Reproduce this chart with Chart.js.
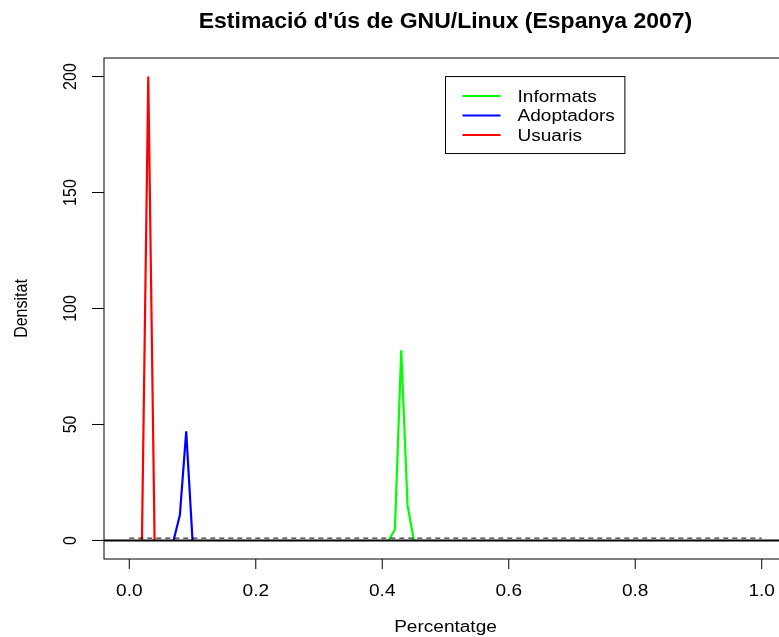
<!DOCTYPE html>
<html>
<head>
<meta charset="utf-8">
<script src="https://cdn.jsdelivr.net/npm/chart.js@4"></script>
<style>
  html, body { margin: 0; padding: 0; background: #fff; overflow: hidden; }
  canvas { display: block; }
</style>
</head>
<body>
<canvas id="grafic" width="840" height="637"></canvas>
<script>
// densitats posteriors (llegides del grafic)
var informatsX = [0.41, 0.42, 0.43, 0.44, 0.45];
var informatsY = [0, 4.7, 82, 15, 0];
var adoptadorsX = [0.07, 0.08, 0.09, 0.10];
var adoptadorsY = [0, 11, 47, 0];
var usuarisX = [0.02, 0.03, 0.04];
var usuarisY = [0, 200, 0];
// prior uniforme
var priorX = [0, 1];
var priorY = [1, 1];

var xTicks = [0, 0.2, 0.4, 0.6, 0.8, 1.0];
var xTickLabels = ['0.0', '0.2', '0.4', '0.6', '0.8', '1.0'];
var yTicks = [0, 50, 100, 150, 200];
var yTickLabels = ['0', '50', '100', '150', '200'];

var FONT = '"Liberation Sans", Arial, sans-serif';
var SX = 1.19; // the picture is a bit wider than tall

function pts(xs, ys) {
  return xs.map(function (x, i) { return { x: x, y: ys[i] }; });
}

function txt(ctx, s, x, y, opts) {
  ctx.save();
  ctx.translate(x, y);
  ctx.scale(opts.sx || 1, 1);
  if (opts.rot) ctx.rotate(-Math.PI / 2);
  ctx.font = opts.font;
  ctx.fillStyle = '#000';
  ctx.textAlign = opts.align || 'center';
  ctx.textBaseline = 'alphabetic';
  ctx.fillText(s, 0, 0);
  ctx.restore();
}

// R style axes, box, titles and legend
var rPlot = {
  id: 'rPlot',
  afterDatasetsDraw: function (chart) {
    var ctx = chart.ctx, a = chart.chartArea;
    var xs = chart.scales.x, ys = chart.scales.y;
    var f16 = '16px ' + FONT;

    // abline(h = 0)
    ctx.save();
    ctx.strokeStyle = '#000';
    ctx.lineWidth = 2;
    ctx.beginPath();
    ctx.moveTo(a.left, ys.getPixelForValue(0));
    ctx.lineTo(a.right, ys.getPixelForValue(0));
    ctx.stroke();

    // box
    ctx.lineWidth = 1;
    ctx.strokeRect(a.left, a.top, a.right - a.left, a.bottom - a.top);

    // ticks
    ctx.beginPath();
    xTicks.forEach(function (v) {
      var px = xs.getPixelForValue(v);
      ctx.moveTo(px, a.bottom);
      ctx.lineTo(px, a.bottom + 10);
    });
    yTicks.forEach(function (v) {
      var py = ys.getPixelForValue(v);
      ctx.moveTo(a.left, py);
      ctx.lineTo(a.left - 12, py);
    });
    ctx.stroke();
    ctx.restore();

    xTicks.forEach(function (v, i) {
      txt(ctx, xTickLabels[i], xs.getPixelForValue(v), a.bottom + 37, { font: f16, sx: SX });
    });
    yTicks.forEach(function (v, i) {
      txt(ctx, yTickLabels[i], a.left - 28, ys.getPixelForValue(v), { font: f16, sx: SX, rot: true });
    });

    var cx = (a.left + a.right) / 2;
    txt(ctx, "Estimació d'ús de GNU/Linux (Espanya 2007)", cx, 28, { font: 'bold 22px ' + FONT, sx: 1.045 });
    txt(ctx, 'Percentatge', cx, 632, { font: f16, sx: SX });
    txt(ctx, 'Densitat', 27, (a.top + a.bottom) / 2, { font: f16, sx: SX, rot: true });

    // legend at (0.5, 200)
    var items = chart.data.datasets.filter(function (d) { return d.label; });
    var lx = xs.getPixelForValue(0.5), ly = ys.getPixelForValue(200);
    ctx.save();
    ctx.font = f16;
    var tw = 0;
    items.forEach(function (d) { tw = Math.max(tw, ctx.measureText(d.label).width * SX); });
    var rowH = 19.5;
    var bw = 72 + tw + 10, bh = 19.4 + rowH * (items.length - 1) + 18.6;
    ctx.fillStyle = '#fff';
    ctx.fillRect(lx, ly, bw, bh);
    ctx.strokeStyle = '#000';
    ctx.lineWidth = 1;
    ctx.strokeRect(lx, ly, bw, bh);
    items.forEach(function (d, i) {
      var ry = ly + 19.4 + i * rowH;
      ctx.strokeStyle = d.borderColor;
      ctx.lineWidth = 2;
      ctx.beginPath();
      ctx.moveTo(lx + 17, ry);
      ctx.lineTo(lx + 55, ry);
      ctx.stroke();
      txt(ctx, d.label, lx + 72, ry + 6, { font: f16, sx: SX, align: 'left' });
    });
    ctx.restore();
  }
};

new Chart(document.getElementById('grafic'), {
  type: 'scatter',
  data: {
    datasets: [
      { label: 'Informats', data: pts(informatsX, informatsY), borderColor: '#00FF00', order: 1 },
      { label: 'Adoptadors', data: pts(adoptadorsX, adoptadorsY), borderColor: '#0000FF', order: 2 },
      { label: 'Usuaris', data: pts(usuarisX, usuarisY), borderColor: '#FF0000', order: 3 },
      { data: pts(priorX, priorY), borderColor: '#000', borderWidth: 1, borderDash: [5, 4], order: 0 }
    ]
  },
  options: {
    responsive: false,
    animation: false,
    devicePixelRatio: 1,
    showLine: true,
    layout: { padding: { left: 104, right: 53, top: 58, bottom: 78 } },
    elements: {
      point: { radius: 0, hoverRadius: 0 },
      line: { borderWidth: 2.2, tension: 0, fill: false }
    },
    scales: {
      x: { type: 'linear', min: -0.04, max: 1.04, display: false },
      y: { type: 'linear', min: -8, max: 208, display: false }
    },
    plugins: {
      legend: { display: false },
      tooltip: { enabled: false },
      title: { display: false }
    }
  },
  plugins: [rPlot]
});
</script>
</body>
</html>
